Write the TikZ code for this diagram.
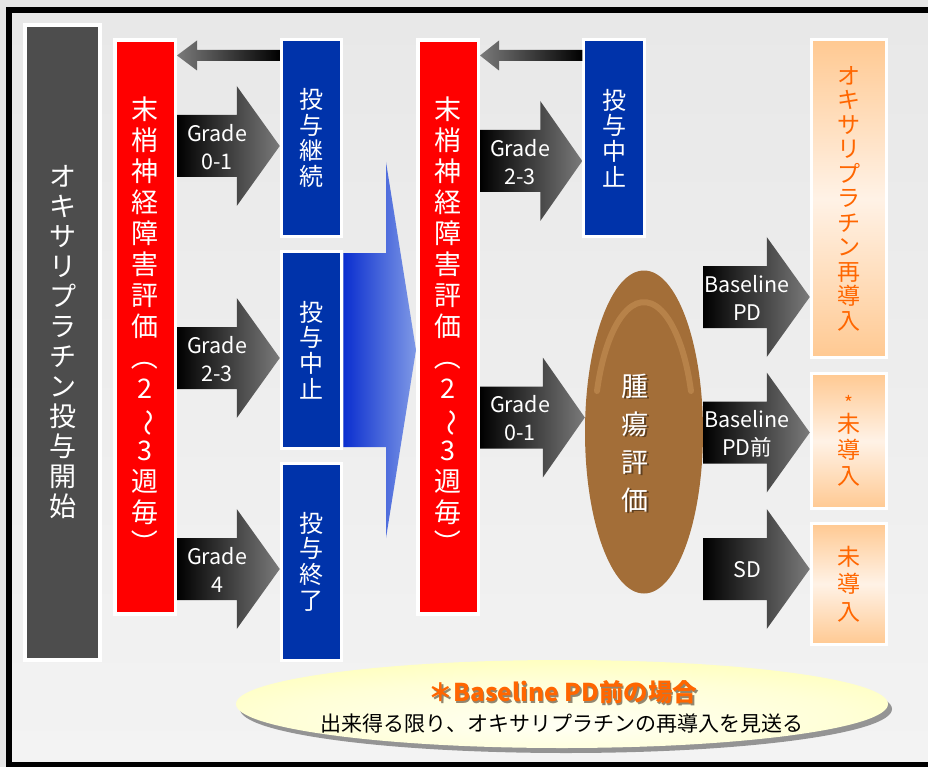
\documentclass[tikz,border=0pt]{standalone}
\usepackage{fontspec}
\usepackage{graphicx}
\setmainfont{Noto Sans CJK JP}
\usetikzlibrary{calc,shapes.geometric,shadows}

\definecolor{bgout}{HTML}{E6E6E6}
\definecolor{bgtop}{HTML}{E8E8E8}
\definecolor{bgbot}{HTML}{F3F3F3}
\definecolor{myred}{HTML}{FF0000}
\definecolor{myblue}{HTML}{0033AA}
\definecolor{dgray}{HTML}{4D4D4D}
\definecolor{myorange}{HTML}{FF6600}
\definecolor{oedge}{HTML}{FFC992}
\definecolor{omid}{HTML}{FFF2E6}
\definecolor{agray}{HTML}{7A7A7A}
\definecolor{bblue}{HTML}{0A2ECF}
\definecolor{lblue}{HTML}{7F99E6}
\definecolor{hilite}{HTML}{D6A064}

\pgfdeclareradialshading{brownsh}{\pgfpoint{0bp}{0bp}}{rgb(0bp)=(0.64,0.43,0.22); rgb(40bp)=(0.64,0.43,0.22); rgb(47bp)=(0.55,0.35,0.16); rgb(50bp)=(0.36,0.22,0.09); rgb(70bp)=(0.36,0.22,0.09)}
\pgfdeclareradialshading{yelsh}{\pgfpoint{0bp}{-12bp}}{rgb(0bp)=(1,1,0.96); rgb(22bp)=(1,1,0.84); rgb(50bp)=(1,1,0.6); rgb(70bp)=(1,1,0.6)}

\newcommand\vrot[1]{\rotatebox[origin=c]{-90}{#1}}
% rightward block arrow: [style]{start}{tip}{shaft half}{head half}{head length}
\newcommand\blockarrowR[6][]{%
  \shade[#1] ($(#2)+(0,-#4)$) -- ($(#3)+(-#6,-#4)$) -- ($(#3)+(-#6,-#5)$) -- (#3)
    -- ($(#3)+(-#6,#5)$) -- ($(#3)+(-#6,#4)$) -- ($(#2)+(0,#4)$) -- cycle;}
% leftward block arrow
\newcommand\blockarrowL[6][]{%
  \shade[#1] ($(#2)+(0,-#4)$) -- ($(#3)+(#6,-#4)$) -- ($(#3)+(#6,-#5)$) -- (#3)
    -- ($(#3)+(#6,#5)$) -- ($(#3)+(#6,#4)$) -- ($(#2)+(0,#4)$) -- cycle;}

\begin{document}
\begin{tikzpicture}[x=1pt,y=-1pt,
  box/.style={draw=white, inner sep=0pt, align=center, text=white},
  dbox/.style={box, fill=dgray, line width=4pt, minimum width=75pt, minimum height=635pt, font=\fontsize{27}{30}\selectfont},
  redbox/.style={box, fill=myred, line width=3.5pt, minimum width=60.5pt, minimum height=573.5pt, font=\fontsize{27}{31}\selectfont},
  bluebox/.style={box, fill=myblue, line width=3pt, minimum width=60.5pt, minimum height=197pt, font=\fontsize{24}{25.7}\selectfont},
  obox/.style={draw=white, line width=3pt, inner sep=0pt, align=center, text=myorange, top color=oedge, bottom color=oedge, middle color=omid, minimum width=75.5pt, font=\fontsize{23}{24.5}\selectfont},
  garrow/.style={left color=black, right color=agray},
  backarrow/.style={left color=agray, right color=black},
  bigarrow/.style={left color=bblue, right color=lblue},
  glabel/.style={text=white, align=center, inner sep=0pt, font=\fontsize{21.5}{28}\selectfont},
]
\useasboundingbox (0,0) rectangle (928,767);
\fill[bgout] (0,0) rectangle (928,767);
\shade[top color=bgtop, bottom color=bgbot] (9,10) rectangle (940,765);
\draw[line width=6pt, black] (9,10) rectangle (940,765);

% main boxes
\node[dbox] (start) at (62.5,342.5) {オ\\キ\\サ\\リ\\プ\\ラ\\チ\\ン\\投\\与\\開\\始};
\node[redbox] (r1) at (145,327) {末\\梢\\神\\経\\障\\害\\評\\価\\\vrot{（}\\2\\\vrot{～}\\3\\週\\毎\\\vrot{）}};
\node[redbox] (r2) at (448,327) {末\\梢\\神\\経\\障\\害\\評\\価\\\vrot{（}\\2\\\vrot{～}\\3\\週\\毎\\\vrot{）}};
\node[bluebox] (b1) at (311.5,138) {投\\与\\継\\続};
\node[bluebox] (b2) at (311.5,350) {投\\与\\中\\止};
\node[bluebox] (b3) at (311.5,561.5) {投\\与\\終\\了};
\node[bluebox] (b4) at (614,138) {投\\与\\中\\止};
\node[obox, minimum height=318pt] (o1) at (849,198.5) {オ\\キ\\サ\\リ\\プ\\ラ\\チ\\ン\\再\\導\\入};
\node[obox, minimum height=135pt] (o2) at (849,441) {{\fontsize{19}{20}\selectfont *}\\[-3pt]未\\[1.5pt]導\\[1.5pt]入};
\node[obox, minimum height=121pt] (o3) at (849,584) {未\\[3pt]導\\[3pt]入};

% tumour evaluation ellipse
\node[ellipse, minimum width=118pt, minimum height=323pt, inner sep=0pt, shade, shading=brownsh] (tum) at (644,432) {};
\draw[line width=6pt, color=hilite, opacity=0.4, line cap=round]
  ($(tum.center)+(-47,-41)$) arc[start angle=200, end angle=340, x radius=50, y radius=135];
\node[text=black!75!brown, opacity=0.6, align=center, inner sep=0pt, font=\fontsize{27}{38}\selectfont] (tumsh) at ($(tum.center)+(-7.5,12.5)$) {腫\\瘍\\評\\価};
\node[text=white, align=center, inner sep=0pt, font=\fontsize{27}{38}\selectfont] (tumtxt) at ($(tum.center)+(-9,11)$) {腫\\瘍\\評\\価};

% helper levels
\coordinate (ya) at (0,55.5);
\coordinate (y1) at (0,146);
\coordinate (y2) at (0,358);
\coordinate (y3) at (0,569);
\coordinate (y4) at (0,161);
\coordinate (y5) at (0,417.5);
\coordinate (y6) at (0,297);
\coordinate (y7) at (0,432.5);

% back arrows
\blockarrowL[backarrow]{b1.west |- ya}{r1.east |- ya}{5.5}{15}{20}
\blockarrowL[backarrow]{b4.west |- ya}{r2.east |- ya}{5.5}{15}{19}

% grade arrows, first column
\blockarrowR[garrow]{r1.east |- y1}{b1.west |- y1}{31}{60}{43}
\blockarrowR[garrow]{r1.east |- y2}{b2.west |- y2}{31}{60}{43}
\blockarrowR[garrow]{r1.east |- y3}{b3.west |- y3}{31}{60}{43}
\node[glabel] (gl1) at ($(r1.east |- y1)+(40,1)$) {Grade\\0-1};
\node[glabel] (gl2) at ($(r1.east |- y2)+(40,1)$) {Grade\\2-3};
\node[glabel] (gl3) at ($(r1.east |- y3)+(40,1)$) {Grade\\4};

% big transition arrow
\blockarrowR[bigarrow]{b2.east}{r2.west |- b2.east}{97}{188}{30}

% grade arrows, second column
\blockarrowR[garrow]{r2.east |- y4}{b4.west |- y4}{31}{60}{42}
\blockarrowR[garrow]{r2.east |- y5}{tum.west |- y5}{31}{60}{42}
\node[glabel] (gl4) at ($(r2.east |- y4)+(40,1)$) {Grade\\2-3};
\node[glabel] (gl5) at ($(r2.east |- y5)+(40,1)$) {Grade\\0-1};

% outcome arrows
\blockarrowR[garrow]{tum.east |- y6}{o1.west |- y6}{31}{60}{43}
\blockarrowR[garrow]{tum.east |- y7}{o2.west |- y7}{31}{60}{43}
\blockarrowR[garrow]{tum.east |- y3}{o3.west |- y3}{31}{60}{43}
\node[glabel] (bl1) at ($(tum.east |- y6)+(44,1)$) {Baseline\\PD};
\node[glabel] (bl2) at ($(tum.east |- y7)+(44,1)$) {Baseline\\PD前};
\node[glabel] (bl3) at ($(tum.east |- y3)+(44,1)$) {SD};

% note ellipse
\node[ellipse, minimum width=652pt, minimum height=88pt, inner sep=0pt, shade, shading=yelsh,
  drop shadow={shadow xshift=4pt, shadow yshift=-5pt, fill=black!42, opacity=1}] (note) at (562,704) {};
\node[text=black!70!brown, opacity=0.55, inner sep=0pt, font=\bfseries\fontsize{24.5}{26}\selectfont] (notesh) at ($(note.center)+(2.5,-10)$) {＊Baseline PD前の場合};
\node[text=myorange, inner sep=0pt, font=\bfseries\fontsize{24.5}{26}\selectfont] (notet) at ($(note.center)+(1,-11.5)$) {＊Baseline PD前の場合};
\node[text=black, inner sep=0pt, font=\fontsize{21}{24}\selectfont] (noteb) at ($(note.center)+(0,20)$) {出来得る限り、オキサリプラチンの再導入を見送る};
\end{tikzpicture}
\end{document}
